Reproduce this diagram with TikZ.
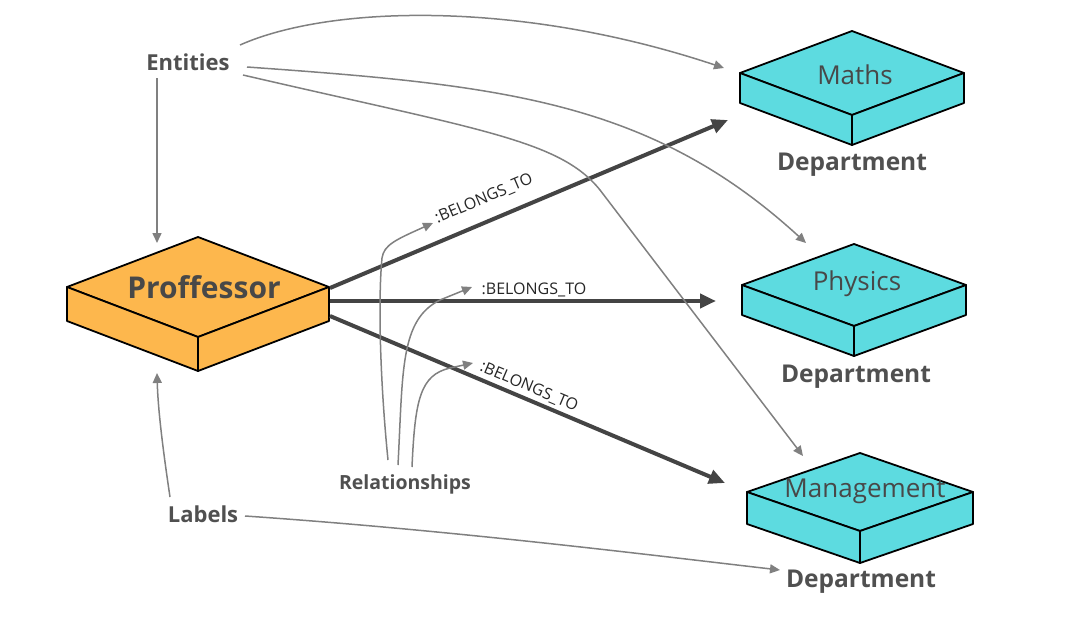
\documentclass[tikz,border=0pt]{standalone}
\usepackage{fontspec}
\setmainfont{Open Sans}
\usetikzlibrary{arrows.meta}
\definecolor{boxorange}{RGB}{253,183,77}
\definecolor{boxcyan}{RGB}{93,219,224}
\definecolor{txtgray}{RGB}{80,80,80}
\definecolor{linkgray}{RGB}{128,128,128}
\definecolor{relgray}{RGB}{68,68,68}
% isometric slab: centre x, centre y of top face, half width, half height, thickness, fill
\newcommand{\isoslab}[6]{%
  \begin{scope}[slab, fill=#6]
    \filldraw (#1-#3,#2) -- (#1,#2-#4) -- (#1+#3,#2) -- (#1,#2+#4) -- cycle;
    \filldraw (#1-#3,#2) -- (#1,#2+#4) -- (#1,#2+#4+#5) -- (#1-#3,#2+#5) -- cycle;
    \filldraw (#1,#2+#4) -- (#1+#3,#2) -- (#1+#3,#2+#5) -- (#1,#2+#4+#5) -- cycle;
  \end{scope}}
\tikzset{
  slab/.style={draw=black, line width=1.8pt, line join=round},
  tag/.style={text=txtgray, font=\bfseries\fontsize{22}{26}\selectfont, inner sep=1pt},
  dept/.style={text=txtgray, font=\bfseries\fontsize{24.5}{28}\selectfont, inner sep=1pt},
  slabtext/.style={text=txtgray!90!black, font=\fontsize{26}{30}\selectfont, inner sep=1pt},
  reltext/.style={text=black!85, font=\fontsize{16}{19}\selectfont, inner sep=0pt},
  thin/.style={draw=linkgray, line width=1.5pt, -{Triangle[length=10pt,width=9pt]}},
  thick/.style={draw=relgray, line width=4pt, -{Triangle[length=16pt,width=14pt]}},
}
\begin{document}
\begin{tikzpicture}[x=1pt,y=-1pt]
\useasboundingbox (0,0) rectangle (1080,640);
\fill[white] (0,0) rectangle (1080,640);

% slabs
\isoslab{198}{287}{131}{50}{34}{boxorange}
\isoslab{852}{73}{112}{42}{30}{boxcyan}
\isoslab{854}{285}{112}{41}{30}{boxcyan}
\isoslab{860}{492}{113}{39}{32}{boxcyan}

% slab captions and legend words
\node[slabtext, font=\bfseries\fontsize{30}{34}\selectfont] (prof) at (204,287) {Proffessor};
\node[slabtext] (maths) at (855,75) {Maths};
\node[slabtext] (phys) at (857,284) {Physics};
\node[slabtext] (mgmt) at (865,491) {Management};
\node[dept] (d1) at (852,165) {Department};
\node[dept] (d2) at (856,377) {Department};
\node[dept] (d3) at (861,582) {Department};
\node[tag] (ent) at (188,62) {Entities};
\node[tag] (labs) at (203,514) {Labels};
\node[tag, font=\bfseries\fontsize{19.5}{23}\selectfont] (rels) at (405,484) {Relationships};

% relationship ends
\coordinate (pA) at (330,288);
\coordinate (pB) at (330,301);
\coordinate (pC) at (330,316);
\coordinate (tA) at (728,120);
\coordinate (tB) at (716,301);
\coordinate (tC) at (725,483);

\draw[thick] (pA) -- (tA);
\draw[thick] (pB) -- (tB);
\draw[thick] (pC) -- (tC);
\node[reltext, rotate=23] (bA) at (484,199) {:BELONGS\_TO};
\node[reltext] (bB) at (534,290) {:BELONGS\_TO};
\node[reltext, rotate=-23] (bC) at (529,387) {:BELONGS\_TO};

% entity pointers
\coordinate (e1) at (240,45);
\coordinate (e2) at (247,67);
\coordinate (e3) at (243,75);
\coordinate (e0) at (157,78);
\coordinate (mTip) at (724,68);
\coordinate (pTip) at (806,243);
\coordinate (gTip) at (803,456);
\coordinate (profTop) at (157,243);
\draw[thin] (e0) -- (profTop);
\draw[thin] (e1) .. controls (330,5) and (520,0) .. (mTip);
\draw[thin] (e2) .. controls (500,85) and (650,100) .. (pTip);
\draw[thin] (e3) .. controls (480,130) and (560,140) .. (600,190) -- (gTip);

% label pointers
\coordinate (l1) at (170,497);
\coordinate (l2) at (245,516);
\coordinate (profBot) at (157,373);
\coordinate (dTip) at (780,570);
\draw[thin] (l1) .. controls (163,450) and (158,410) .. (profBot);
\draw[thin] (l2) .. controls (450,530) and (650,555) .. (dTip);

% relationship pointers
\coordinate (r1) at (388,460);
\coordinate (r2) at (398,465);
\coordinate (r3) at (412,467);
\coordinate (rA) at (433,223);
\coordinate (rB) at (472,287);
\coordinate (rC) at (473,363);
\draw[thin] (r1) .. controls (380,380) and (378,300) .. (382,258) .. controls (384,245) and (395,240) .. (rA);
\draw[thin] (r2) .. controls (403,370) and (400,320) .. (440,300) -- (rB);
\draw[thin] (r3) .. controls (415,400) and (420,375) .. (450,368) -- (rC);
\end{tikzpicture}
\end{document}
